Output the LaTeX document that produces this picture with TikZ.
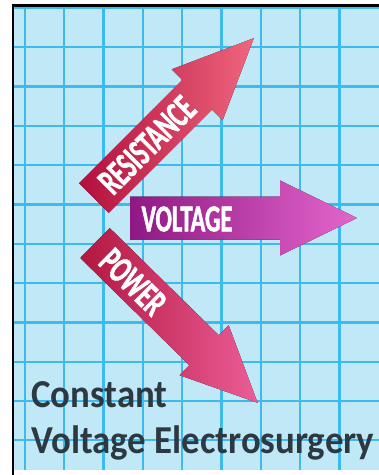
\documentclass[tikz,border=0pt]{standalone}
\usepackage{fontspec}
\setmainfont{Carlito}
\newfontfamily\tagfont[FakeStretch=0.64, FakeBold=1.3]{Carlito}
\newfontfamily\capfont[FakeStretch=0.93]{Carlito}
\usetikzlibrary{positioning,calc}

\definecolor{paper}{HTML}{C0E8F6}
\definecolor{gridblue}{HTML}{3DBAEE}
\definecolor{resdark}{HTML}{B2103C}
\definecolor{reslight}{HTML}{EF667E}
\definecolor{voltdark}{HTML}{8F1884}
\definecolor{voltlight}{HTML}{E466CC}
\definecolor{powdark}{HTML}{B3173F}
\definecolor{powlight}{HTML}{EC5D97}
\definecolor{inkgray}{HTML}{2C3942}

\begin{document}
\begin{tikzpicture}[x=1pt, y=-1pt,
  gridline/.style={draw=gridblue, line width=2.3pt},
  frameline/.style={draw=black, line width=2.6pt},
  tag/.style={text=white, inner sep=0pt, font=\tagfont\bfseries\fontsize{38}{38}\selectfont},
  caption/.style={text=inkgray, inner sep=0pt, anchor=base west,
                  font=\capfont\bfseries\fontsize{39.6}{40}\selectfont},
]
\useasboundingbox (0,0) rectangle (379,475);

% ---- squared paper ----
\fill[paper] (14,6) rectangle (379,470);
\foreach \i in {0,...,8}
  \draw[gridline] (25+39.3*\i, 6) -- (25+39.3*\i, 470);
\foreach \j in {0,...,11}
  \draw[gridline] (14, 8+39.3*\j) -- (379, 8+39.3*\j);
\draw[frameline] (13,475) -- (13,5.5) -- (379,5.5);

% ---- resistance, pointing up ----
\begin{scope}[shift={(94,198)}, rotate=45]
  \fill[left color=resdark, right color=reslight]
    (0,-21) -- (146,-21) -- (146,-36) -- (226,0) -- (146,36) -- (146,21) -- (0,21) -- cycle;
\end{scope}
\node[tag, rotate=45] (res) at (147,145) {RESISTANCE};

% ---- voltage, flat ----
\begin{scope}[shift={(130,218)}]
  \fill[left color=voltdark, right color=voltlight]
    (0,-21.5) -- (150,-21.5) -- (150,-37.5) -- (227,0) -- (150,37.5) -- (150,21.5) -- (0,21.5) -- cycle;
\end{scope}
\node[tag] (volt) at (187,219) {VOLTAGE};

% ---- power, pointing down ----
\begin{scope}[shift={(95,243)}, rotate=-44.5]
  \fill[left color=powdark, right color=powlight]
    (0,-21) -- (153,-21) -- (153,-35) -- (228,0) -- (153,35) -- (153,21) -- (0,21) -- cycle;
\end{scope}
\node[tag, rotate=-44.5] (pow) at (133,282) {POWER};

% ---- caption ----
\node[caption] (cap1) at (31,407) {Constant};
\node[caption] (cap2) at (31,453) {Voltage Electrosurgery};

\end{tikzpicture}
\end{document}
